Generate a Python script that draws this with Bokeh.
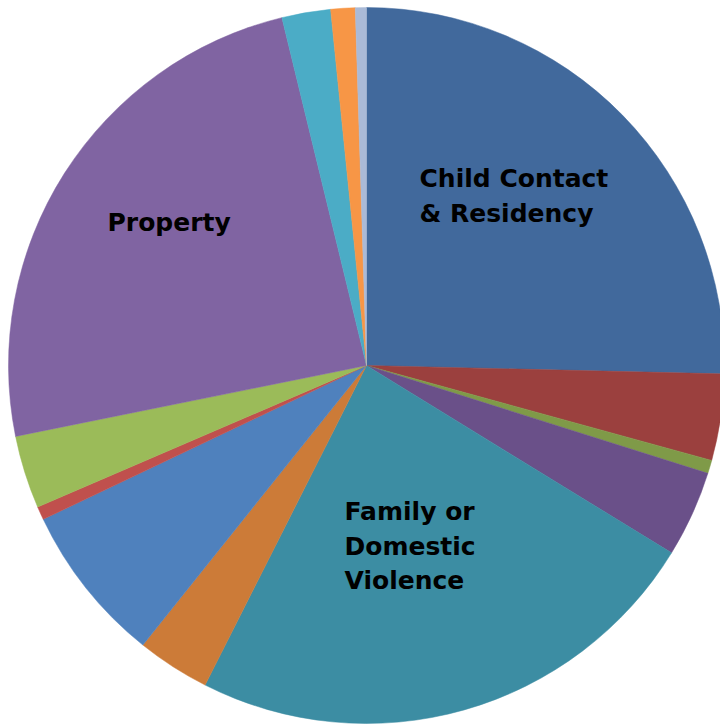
import numpy as np
from bokeh.plotting import figure
from bokeh.models import Range1d, ColumnDataSource
from bokeh.core.properties import value
from bokeh.embed import file_html
from bokeh.resources import INLINE

categories = ["Child Contact & Residency", "Cat 2", "Cat 3", "Cat 4",
              "Family or Domestic Violence", "Cat 6", "Cat 7", "Cat 8",
              "Cat 9", "Property", "Cat 11", "Cat 12", "Cat 13"]
shares = [25.4, 3.9, 0.6, 3.9, 23.7, 3.3, 7.2, 0.6, 3.3, 24.4, 2.2, 1.1, 0.5]
colors = ["#41699C", "#9B403E", "#7F9A48", "#6A5089", "#3C8DA3", "#CC7B38",
          "#4F81BD", "#C0504D", "#9BBB59", "#8064A2", "#4BACC6", "#F79646",
          "#AABAD7"]

label_lines = [["Child Contact", "& Residency"], ["Family or", "Domestic", "Violence"], ["Property"]]
label_x = [419, 344, 107]
label_top_baseline = [178, 511, 222]
line_gap = 34.5

W, H = 720, 724
p = figure(width=W, height=H, output_backend="svg", toolbar_location=None,
           x_range=Range1d(0, W), y_range=Range1d(0, H), min_border=0,
           outline_line_color=None)
p.axis.visible = False
p.grid.visible = False

cx, cy = 366, H - 365
r = 358
vals = np.array(shares, dtype=float)
frac = vals / vals.sum()
cum = np.concatenate([[0], np.cumsum(frac)])
start = np.pi / 2 - 2 * np.pi * cum[:-1]
end = np.pi / 2 - 2 * np.pi * cum[1:]
src = ColumnDataSource(dict(start=start, end=end, color=colors, cat=categories))
p.wedge(x=cx, y=cy, radius=r, radius_units="screen", start_angle="start", end_angle="end",
        direction="clock", fill_color="color", line_color="color", line_width=0.5, source=src)

xs, ys, ts = [], [], []
for lines, x0, b0 in zip(label_lines, label_x, label_top_baseline):
    for i, t in enumerate(lines):
        xs.append(x0)
        ys.append(H - (b0 + i * line_gap))
        ts.append(t)
p.text(x=xs, y=ys, text=ts, text_font=value("DejaVu Sans"), text_font_style="bold",
       text_font_size="25px", text_color="black", text_baseline="alphabetic", text_align="left")

open("out.html", "w").write(file_html(p, INLINE))
